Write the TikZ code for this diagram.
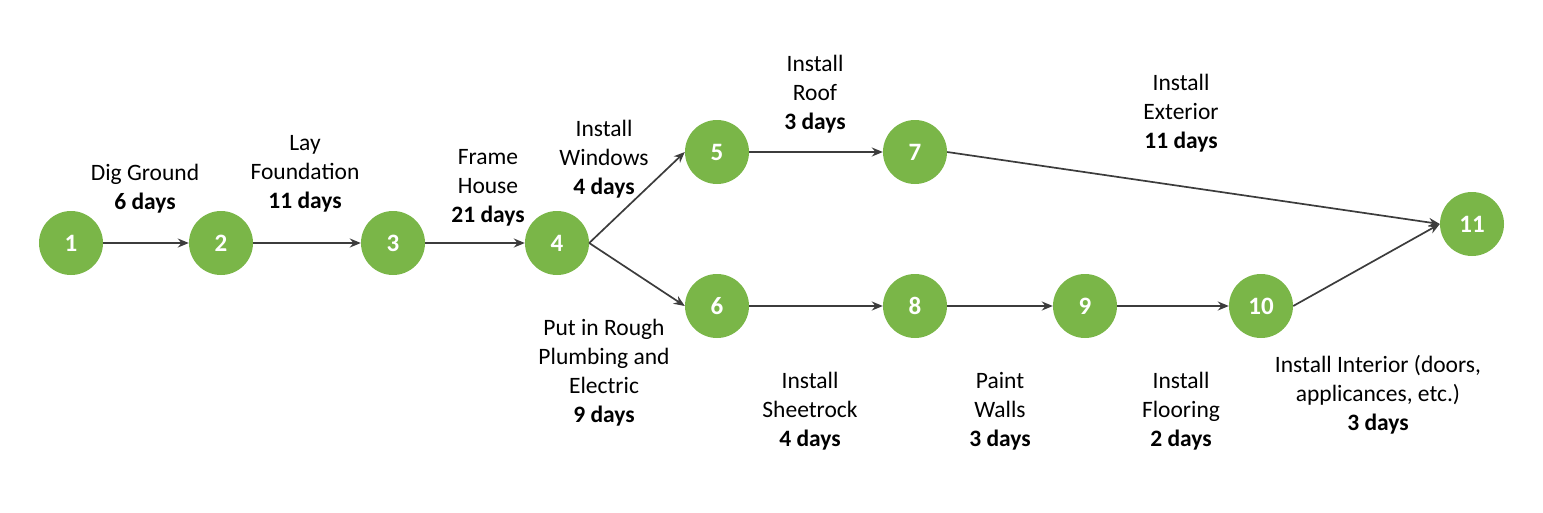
\documentclass[tikz,border=0pt]{standalone}
\usepackage{fontspec}
\setmainfont{Carlito}
\usetikzlibrary{arrows.meta}
\definecolor{nodegreen}{HTML}{7AB648}
\definecolor{edgegray}{HTML}{3C3C3C}
\begin{document}
\begin{tikzpicture}[x=1pt,y=-1pt,
  evnode/.style={circle,fill=nodegreen,draw=none,minimum size=64pt,inner sep=0pt,
    text=white,font=\fontsize{25pt}{29pt}\selectfont\bfseries},
  lbl/.style={align=center,inner sep=0pt,font=\fontsize{23.5pt}{29pt}\selectfont},
  conn/.style={draw=edgegray,line width=1.7pt,-{Stealth[length=11pt,width=9pt]}}]
\useasboundingbox (0,0) rectangle (1543,512);
\node[evnode] (n1) at (71,243) {1};
\node[evnode] (n2) at (221,243) {2};
\node[evnode] (n3) at (393,243) {3};
\node[evnode] (n4) at (557,243) {4};
\node[evnode] (n5) at (717,152) {5};
\node[evnode] (n6) at (717,306) {6};
\node[evnode] (n7) at (915,152) {7};
\node[evnode] (n8) at (915,306) {8};
\node[evnode] (n9) at (1085,306) {9};
\node[evnode] (n10) at (1261,306) {10};
\node[evnode] (n11) at (1472,224) {11};
\draw[conn] (n1.east) -- (n2.west);
\draw[conn] (n2.east) -- (n3.west);
\draw[conn] (n3.east) -- (n4.west);
\draw[conn] (n4.east) -- (n5.west);
\draw[conn] (n4.east) -- (n6.west);
\draw[conn] (n5.east) -- (n7.west);
\draw[conn] (n6.east) -- (n8.west);
\draw[conn] (n8.east) -- (n9.west);
\draw[conn] (n9.east) -- (n10.west);
\draw[conn] (n7.east) -- (n11.west);
\draw[conn] (n10.east) -- (n11.west);
\node[lbl] (t12) at (145,189) {Dig Ground\\\textbf{6 days}};
\node[lbl] (t23) at (305,174) {Lay\\Foundation\\\textbf{11 days}};
\node[lbl] (t34) at (488,188) {Frame\\House\\\textbf{21 days}};
\node[lbl] (t45) at (604,159) {Install\\Windows\\\textbf{4 days}};
\node[lbl] (t57) at (815,94) {Install\\Roof\\\textbf{3 days}};
\node[lbl] (t711) at (1181,113) {Install\\Exterior\\\textbf{11 days}};
\node[lbl] (t46) at (604,373) {Put in Rough\\Plumbing and\\Electric\\\textbf{9 days}};
\node[lbl] (t68) at (810,411) {Install\\Sheetrock\\\textbf{4 days}};
\node[lbl] (t89) at (1000,411) {Paint\\Walls\\\textbf{3 days}};
\node[lbl] (t910) at (1181,411) {Install\\Flooring\\\textbf{2 days}};
\node[lbl] (t1011) at (1378,395) {Install Interior (doors,\\applicances, etc.)\\\textbf{3 days}};
\end{tikzpicture}
\end{document}
